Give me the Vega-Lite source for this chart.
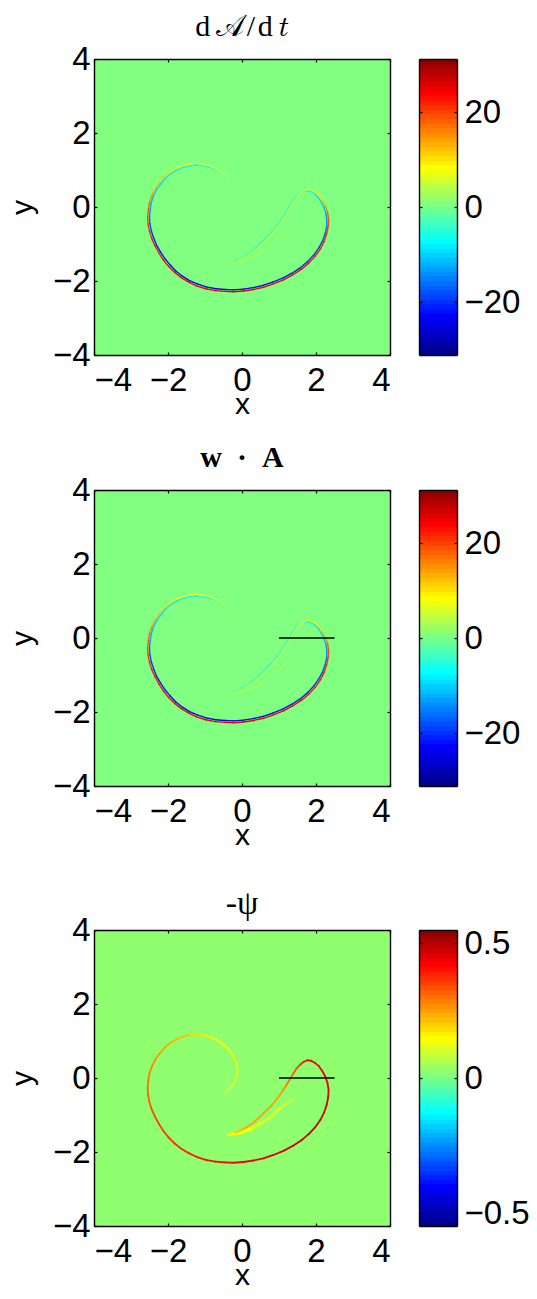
{
"$schema":"https://vega.github.io/schema/vega-lite/v6.json",
"padding":{"left":7,"top":12,"right":0,"bottom":0},
"background":"white",
"resolve":{"scale":{"color":"independent"}},
"config":{"view":{"stroke":null},"font":"Liberation Sans",
"axis":{"labelFont":"Liberation Sans","labelFontSize":33,"labelColor":"#000","titleFont":"Liberation Sans","titleFontSize":30,"titleFontWeight":"normal","titleColor":"#000","domainColor":"#000","domainWidth":1.4,"tickColor":"#000","tickWidth":1.2,"tickSize":-3,"grid":false}},
"datasets":{
"bg":[{"x0":-4,"x1":4,"y0":-4,"y1":4,"v":0,"p":0.018}],
"seg":[{"x0":1,"x1":2.5,"y0":0}],
"out":[
{"x":-0.46,"y":-0.41,"a":0,"c":0.07},{"x":-0.36,"y":-0.32,"a":0,"c":0.09},{"x":-0.27,"y":-0.22,"a":0,"c":0.1},{"x":-0.19,"y":-0.09,"a":0,"c":0.1},{"x":-0.14,"y":0.05,"a":0,"c":0.11},{"x":-0.12,"y":0.22,"a":0,"c":0.11},{"x":-0.14,"y":0.38,"a":0,"c":0.12},{"x":-0.21,"y":0.55,"a":0,"c":0.12},{"x":-0.3,"y":0.69,"a":1,"c":0.13},{"x":-0.41,"y":0.83,"a":3,"c":0.13},{"x":-0.55,"y":0.94,"a":4,"c":0.14},{"x":-0.71,"y":1.05,"a":5,"c":0.15},{"x":-0.88,"y":1.12,"a":6,"c":0.16},{"x":-1.06,"y":1.16,"a":7,"c":0.17},{"x":-1.23,"y":1.18,"a":8,"c":0.18},{"x":-1.41,"y":1.16,"a":9,"c":0.2},{"x":-1.59,"y":1.12,"a":9,"c":0.21},{"x":-1.77,"y":1.05,"a":9,"c":0.22},{"x":-1.95,"y":0.94,"a":10,"c":0.23},{"x":-2.1,"y":0.81,"a":11,"c":0.24},{"x":-2.23,"y":0.66,"a":12,"c":0.25},{"x":-2.34,"y":0.5,"a":13,"c":0.26},{"x":-2.43,"y":0.32,"a":15,"c":0.27},{"x":-2.5,"y":0.13,"a":17,"c":0.28},{"x":-2.53,"y":-0.06,"a":18,"c":0.29},{"x":-2.55,"y":-0.26,"a":19,"c":0.3},{"x":-2.54,"y":-0.46,"a":20,"c":0.31},{"x":-2.5,"y":-0.66,"a":21,"c":0.32},{"x":-2.44,"y":-0.85,"a":22,"c":0.33},{"x":-2.35,"y":-1.05,"a":22,"c":0.34},{"x":-2.24,"y":-1.25,"a":23,"c":0.34},{"x":-2.12,"y":-1.44,"a":23,"c":0.35},{"x":-1.98,"y":-1.61,"a":23,"c":0.36},{"x":-1.82,"y":-1.77,"a":24,"c":0.36},{"x":-1.64,"y":-1.91,"a":24,"c":0.37},{"x":-1.44,"y":-2.03,"a":24,"c":0.38},{"x":-1.23,"y":-2.13,"a":24,"c":0.39},{"x":-0.98,"y":-2.21,"a":24,"c":0.4},{"x":-0.72,"y":-2.26,"a":24,"c":0.41},{"x":-0.47,"y":-2.28,"a":24,"c":0.41},{"x":-0.23,"y":-2.29,"a":24,"c":0.42},{"x":0.04,"y":-2.27,"a":24,"c":0.42},{"x":0.31,"y":-2.23,"a":24,"c":0.43},{"x":0.58,"y":-2.17,"a":24,"c":0.44},{"x":0.85,"y":-2.08,"a":24,"c":0.45},{"x":1.12,"y":-1.97,"a":24,"c":0.46},{"x":1.38,"y":-1.83,"a":23,"c":0.47},{"x":1.61,"y":-1.68,"a":23,"c":0.48},{"x":1.81,"y":-1.51,"a":22,"c":0.48},{"x":1.98,"y":-1.33,"a":22,"c":0.47},{"x":2.12,"y":-1.13,"a":22,"c":0.46},{"x":2.22,"y":-0.93,"a":21,"c":0.45},{"x":2.29,"y":-0.72,"a":20,"c":0.45},{"x":2.33,"y":-0.52,"a":19,"c":0.44},{"x":2.34,"y":-0.32,"a":18,"c":0.44},{"x":2.31,"y":-0.13,"a":15,"c":0.43},{"x":2.25,"y":0.04,"a":12,"c":0.43},{"x":2.17,"y":0.19,"a":10,"c":0.42},{"x":2.08,"y":0.32,"a":9,"c":0.42},{"x":1.97,"y":0.41,"a":8,"c":0.42},{"x":1.86,"y":0.47,"a":7,"c":0.42},{"x":1.77,"y":0.48,"a":6,"c":0.41},{"x":1.67,"y":0.44,"a":5,"c":0.38},{"x":1.57,"y":0.36,"a":4,"c":0.35},{"x":1.47,"y":0.25,"a":4,"c":0.32},{"x":1.38,"y":0.11,"a":4,"c":0.3},{"x":1.29,"y":-0.04,"a":4,"c":0.28},{"x":1.19,"y":-0.21,"a":4,"c":0.26},{"x":1.07,"y":-0.39,"a":4,"c":0.24},{"x":0.94,"y":-0.58,"a":4,"c":0.24},{"x":0.79,"y":-0.75,"a":3,"c":0.24},{"x":0.63,"y":-0.91,"a":3,"c":0.24},{"x":0.47,"y":-1.06,"a":3,"c":0.24},{"x":0.31,"y":-1.2,"a":2,"c":0.24},{"x":0.14,"y":-1.32,"a":2,"c":0.22},{"x":-0.03,"y":-1.41,"a":2,"c":0.2},{"x":-0.19,"y":-1.49,"a":1,"c":0.15},{"x":-0.37,"y":-1.53,"a":0.5,"c":0.1}
],
"inn":[
{"x":-0.4,"y":0.79,"a":-1},{"x":-0.53,"y":0.9,"a":-2},{"x":-0.69,"y":1.01,"a":-4},{"x":-0.87,"y":1.08,"a":-6},{"x":-1.06,"y":1.12,"a":-7},{"x":-1.23,"y":1.14,"a":-8},{"x":-1.4,"y":1.12,"a":-8},{"x":-1.57,"y":1.08,"a":-8},{"x":-1.75,"y":1.01,"a":-9},{"x":-1.92,"y":0.91,"a":-9},{"x":-2.07,"y":0.78,"a":-10},{"x":-2.19,"y":0.63,"a":-10},{"x":-2.3,"y":0.48,"a":-11},{"x":-2.39,"y":0.31,"a":-12},{"x":-2.45,"y":0.12,"a":-13},{"x":-2.48,"y":-0.06,"a":-15},{"x":-2.5,"y":-0.26,"a":-17},{"x":-2.49,"y":-0.45,"a":-19},{"x":-2.45,"y":-0.65,"a":-20},{"x":-2.39,"y":-0.83,"a":-21},{"x":-2.31,"y":-1.03,"a":-22},{"x":-2.2,"y":-1.22,"a":-22},{"x":-2.08,"y":-1.4,"a":-22},{"x":-1.94,"y":-1.57,"a":-23},{"x":-1.79,"y":-1.73,"a":-23},{"x":-1.61,"y":-1.87,"a":-23},{"x":-1.42,"y":-1.99,"a":-23},{"x":-1.21,"y":-2.08,"a":-23},{"x":-0.97,"y":-2.16,"a":-23},{"x":-0.71,"y":-2.21,"a":-23},{"x":-0.47,"y":-2.23,"a":-23},{"x":-0.23,"y":-2.24,"a":-23},{"x":0.04,"y":-2.22,"a":-23},{"x":0.3,"y":-2.18,"a":-23},{"x":0.57,"y":-2.12,"a":-23},{"x":0.83,"y":-2.03,"a":-22},{"x":1.1,"y":-1.92,"a":-22},{"x":1.35,"y":-1.79,"a":-22},{"x":1.58,"y":-1.64,"a":-21},{"x":1.78,"y":-1.47,"a":-21},{"x":1.94,"y":-1.3,"a":-20},{"x":2.08,"y":-1.1,"a":-19},{"x":2.18,"y":-0.91,"a":-18},{"x":2.25,"y":-0.71,"a":-17},{"x":2.29,"y":-0.52,"a":-15},{"x":2.29,"y":-0.32,"a":-14},{"x":2.26,"y":-0.14,"a":-12},{"x":2.2,"y":0.02,"a":-11},{"x":2.13,"y":0.16,"a":-10},{"x":2.04,"y":0.28,"a":-9},{"x":1.94,"y":0.37,"a":-8},{"x":1.85,"y":0.42,"a":-7},{"x":1.76,"y":0.44,"a":-6},{"x":1.65,"y":0.42,"a":-5},{"x":1.54,"y":0.35,"a":-5},{"x":1.44,"y":0.26,"a":-5},{"x":1.35,"y":0.13,"a":-5},{"x":1.26,"y":-0.02,"a":-5},{"x":1.16,"y":-0.19,"a":-5},{"x":1.04,"y":-0.37,"a":-5},{"x":0.91,"y":-0.55,"a":-5},{"x":0.76,"y":-0.72,"a":-5},{"x":0.6,"y":-0.88,"a":-5},{"x":0.44,"y":-1.03,"a":-4},{"x":0.28,"y":-1.17,"a":-4},{"x":0.11,"y":-1.29,"a":-3},{"x":-0.06,"y":-1.38,"a":-3},{"x":-0.22,"y":-1.45,"a":-1}
],
"sec":[{"x":1.39,"y":-0.58,"a":1,"c":0.06},{"x":1.21,"y":-0.68,"a":2,"c":0.08},{"x":0.98,"y":-0.86,"a":2,"c":0.09},{"x":0.76,"y":-1.05,"a":2,"c":0.1},{"x":0.49,"y":-1.24,"a":3,"c":0.11},{"x":0.22,"y":-1.39,"a":3,"c":0.13},{"x":-0.05,"y":-1.48,"a":3,"c":0.14},{"x":-0.37,"y":-1.53,"a":2,"c":0.1}],
"barA":[{"l":-31},{"l":-30.03},{"l":-29.06},{"l":-28.09},{"l":-27.13},{"l":-26.16},{"l":-25.19},{"l":-24.22},{"l":-23.25},{"l":-22.28},{"l":-21.31},{"l":-20.34},{"l":-19.38},{"l":-18.41},{"l":-17.44},{"l":-16.47},{"l":-15.5},{"l":-14.53},{"l":-13.56},{"l":-12.59},{"l":-11.63},{"l":-10.66},{"l":-9.69},{"l":-8.72},{"l":-7.75},{"l":-6.78},{"l":-5.81},{"l":-4.84},{"l":-3.88},{"l":-2.91},{"l":-1.94},{"l":-0.97},{"l":0},{"l":0.97},{"l":1.94},{"l":2.91},{"l":3.88},{"l":4.84},{"l":5.81},{"l":6.78},{"l":7.75},{"l":8.72},{"l":9.69},{"l":10.66},{"l":11.63},{"l":12.59},{"l":13.56},{"l":14.53},{"l":15.5},{"l":16.47},{"l":17.44},{"l":18.41},{"l":19.38},{"l":20.34},{"l":21.31},{"l":22.28},{"l":23.25},{"l":24.22},{"l":25.19},{"l":26.16},{"l":27.13},{"l":28.09},{"l":29.06},{"l":30.03},{"l":31}],
"barP":[{"l":-0.55},{"l":-0.533},{"l":-0.516},{"l":-0.498},{"l":-0.481},{"l":-0.464},{"l":-0.447},{"l":-0.43},{"l":-0.413},{"l":-0.395},{"l":-0.378},{"l":-0.361},{"l":-0.344},{"l":-0.327},{"l":-0.309},{"l":-0.292},{"l":-0.275},{"l":-0.258},{"l":-0.241},{"l":-0.223},{"l":-0.206},{"l":-0.189},{"l":-0.172},{"l":-0.155},{"l":-0.138},{"l":-0.12},{"l":-0.103},{"l":-0.086},{"l":-0.069},{"l":-0.052},{"l":-0.034},{"l":-0.017},{"l":0},{"l":0.017},{"l":0.034},{"l":0.052},{"l":0.069},{"l":0.086},{"l":0.103},{"l":0.12},{"l":0.138},{"l":0.155},{"l":0.172},{"l":0.189},{"l":0.206},{"l":0.223},{"l":0.241},{"l":0.258},{"l":0.275},{"l":0.292},{"l":0.309},{"l":0.327},{"l":0.344},{"l":0.361},{"l":0.378},{"l":0.395},{"l":0.413},{"l":0.43},{"l":0.447},{"l":0.464},{"l":0.481},{"l":0.498},{"l":0.516},{"l":0.533},{"l":0.55}]
},
"vconcat":[
{"hconcat":[
{"width":296,"height":296,"title":{"text":"d\u2009𝒜\u200a/\u200ad\u2009𝑡","font":"Liberation Serif","fontSize":30,"fontWeight":"normal","color":"#000","offset":1},
"resolve":{"axis":{"x":"independent","y":"independent"}},
"layer":[
{"data":{"name":"bg"},"mark":"rect","encoding":{"x":{"field":"x0","type":"quantitative","scale":{"domain":[-4,4],"nice":false,"zero":false},"axis":{"zindex":1,"values":[-4,-2,0,2,4],"title":"x","labelPadding":12,"titlePadding":-8}},"x2":{"field":"x1"},"y":{"field":"y0","type":"quantitative","scale":{"domain":[-4,4],"nice":false,"zero":false},"axis":{"zindex":1,"values":[-4,-2,0,2,4],"title":"y","labelPadding":7,"titlePadding":15}},"y2":{"field":"y1"},"color":{"field":"v","type":"quantitative","legend":null,"scale":{"interpolate":"rgb","domain":[-31,-23.25,-7.75,7.75,23.25,31],"range":["#00008f","#0000ff","#00ffff","#ffff00","#ff0000","#800000"]}}}},
{"data":{"name":"bg"},"mark":{"type":"rect","opacity":0},"encoding":{"x":{"field":"x0","type":"quantitative","axis":{"zindex":1,"orient":"top","values":[-4,-2,0,2,4],"labels":false,"title":null}},"x2":{"field":"x1"},"y":{"field":"y0","type":"quantitative","axis":{"zindex":1,"orient":"right","values":[-4,-2,0,2,4],"labels":false,"title":null}},"y2":{"field":"y1"}}},
{"data":{"name":"sec"},"transform":[{"window":[{"op":"lead","field":"x","as":"x2"},{"op":"lead","field":"y","as":"y2"}]},{"filter":"datum.x2 != null"}],"mark":{"type":"rule","strokeWidth":1.2,"strokeCap":"round"},"encoding":{"x":{"field":"x","type":"quantitative","axis":null},"y":{"field":"y","type":"quantitative","axis":null},"x2":{"field":"x2"},"y2":{"field":"y2"},"color":{"field":"a","type":"quantitative","legend":null}}},
{"data":{"name":"inn"},"transform":[{"window":[{"op":"lead","field":"x","as":"x2"},{"op":"lead","field":"y","as":"y2"}]},{"filter":"datum.x2 != null"}],"mark":{"type":"rule","strokeWidth":1.4,"strokeCap":"round"},"encoding":{"x":{"field":"x","type":"quantitative","axis":null},"y":{"field":"y","type":"quantitative","axis":null},"x2":{"field":"x2"},"y2":{"field":"y2"},"color":{"field":"a","type":"quantitative","legend":null}}},
{"data":{"name":"out"},"transform":[{"window":[{"op":"lead","field":"x","as":"x2"},{"op":"lead","field":"y","as":"y2"}]},{"filter":"datum.x2 != null"}],"mark":{"type":"rule","strokeWidth":1.4,"strokeCap":"round"},"encoding":{"x":{"field":"x","type":"quantitative","axis":null},"y":{"field":"y","type":"quantitative","axis":null},"x2":{"field":"x2"},"y2":{"field":"y2"},"color":{"field":"a","type":"quantitative","legend":null}}}
]},
{"width":38,"height":296,"data":{"name":"barA"},"transform":[{"window":[{"op":"lead","field":"l","as":"h"}]},{"filter":"datum.h != null"}],
"resolve":{"axis":{"x":"independent","y":"independent"}},
"layer":[
{"mark":"rect","encoding":{"x":{"datum":0,"type":"quantitative","scale":{"domain":[0,1]},"axis":{"zindex":1,"values":[],"labels":false,"title":null,"ticks":false}},"x2":{"datum":1},"y":{"field":"l","type":"quantitative","scale":{"domain":[-31,31],"nice":false,"zero":false,"round":true},"axis":{"zindex":1,"orient":"right","values":[-20,0,20],"title":null,"labelPadding":10,"format":"d"}},"y2":{"field":"h"},"color":{"field":"l","type":"quantitative","legend":null,"scale":{"interpolate":"rgb","domain":[-31,-23.25,-7.75,7.75,23.25,31],"range":["#00008f","#0000ff","#00ffff","#ffff00","#ff0000","#800000"]}}}},
{"mark":{"type":"rect","opacity":0},"encoding":{"x":{"datum":0,"type":"quantitative","axis":{"zindex":1,"orient":"top","values":[],"labels":false,"title":null,"ticks":false}},"x2":{"datum":1},"y":{"field":"l","type":"quantitative","axis":{"zindex":1,"orient":"left","values":[-20,0,20],"title":null,"labels":false}},"y2":{"field":"h"}}}
]}
],"spacing":27},
{"hconcat":[
{"width":296,"height":296,"title":{"text":"w\u2002·\u2002A","font":"Liberation Serif","fontSize":30,"fontWeight":"bold","color":"#000","offset":1},
"resolve":{"axis":{"x":"independent","y":"independent"}},
"layer":[
{"data":{"name":"bg"},"mark":"rect","encoding":{"x":{"field":"x0","type":"quantitative","scale":{"domain":[-4,4],"nice":false,"zero":false},"axis":{"zindex":1,"values":[-4,-2,0,2,4],"title":"x","labelPadding":12,"titlePadding":-8}},"x2":{"field":"x1"},"y":{"field":"y0","type":"quantitative","scale":{"domain":[-4,4],"nice":false,"zero":false},"axis":{"zindex":1,"values":[-4,-2,0,2,4],"title":"y","labelPadding":7,"titlePadding":15}},"y2":{"field":"y1"},"color":{"field":"v","type":"quantitative","legend":null,"scale":{"interpolate":"rgb","domain":[-31,-23.25,-7.75,7.75,23.25,31],"range":["#00008f","#0000ff","#00ffff","#ffff00","#ff0000","#800000"]}}}},
{"data":{"name":"bg"},"mark":{"type":"rect","opacity":0},"encoding":{"x":{"field":"x0","type":"quantitative","axis":{"zindex":1,"orient":"top","values":[-4,-2,0,2,4],"labels":false,"title":null}},"x2":{"field":"x1"},"y":{"field":"y0","type":"quantitative","axis":{"zindex":1,"orient":"right","values":[-4,-2,0,2,4],"labels":false,"title":null}},"y2":{"field":"y1"}}},
{"data":{"name":"sec"},"transform":[{"window":[{"op":"lead","field":"x","as":"x2"},{"op":"lead","field":"y","as":"y2"}]},{"filter":"datum.x2 != null"}],"mark":{"type":"rule","strokeWidth":1.2,"strokeCap":"round"},"encoding":{"x":{"field":"x","type":"quantitative","axis":null},"y":{"field":"y","type":"quantitative","axis":null},"x2":{"field":"x2"},"y2":{"field":"y2"},"color":{"field":"a","type":"quantitative","legend":null}}},
{"data":{"name":"inn"},"transform":[{"window":[{"op":"lead","field":"x","as":"x2"},{"op":"lead","field":"y","as":"y2"}]},{"filter":"datum.x2 != null"}],"mark":{"type":"rule","strokeWidth":1.4,"strokeCap":"round"},"encoding":{"x":{"field":"x","type":"quantitative","axis":null},"y":{"field":"y","type":"quantitative","axis":null},"x2":{"field":"x2"},"y2":{"field":"y2"},"color":{"field":"a","type":"quantitative","legend":null}}},
{"data":{"name":"out"},"transform":[{"window":[{"op":"lead","field":"x","as":"x2"},{"op":"lead","field":"y","as":"y2"}]},{"filter":"datum.x2 != null"}],"mark":{"type":"rule","strokeWidth":1.4,"strokeCap":"round"},"encoding":{"x":{"field":"x","type":"quantitative","axis":null},"y":{"field":"y","type":"quantitative","axis":null},"x2":{"field":"x2"},"y2":{"field":"y2"},"color":{"field":"a","type":"quantitative","legend":null}}},
{"data":{"name":"seg"},"mark":{"type":"rule","color":"#000","strokeWidth":1.6},"encoding":{"x":{"field":"x0","type":"quantitative","axis":null},"x2":{"field":"x1"},"y":{"field":"y0","type":"quantitative","axis":null}}}
]},
{"width":38,"height":296,"data":{"name":"barA"},"transform":[{"window":[{"op":"lead","field":"l","as":"h"}]},{"filter":"datum.h != null"}],
"resolve":{"axis":{"x":"independent","y":"independent"}},
"layer":[
{"mark":"rect","encoding":{"x":{"datum":0,"type":"quantitative","scale":{"domain":[0,1]},"axis":{"zindex":1,"values":[],"labels":false,"title":null,"ticks":false}},"x2":{"datum":1},"y":{"field":"l","type":"quantitative","scale":{"domain":[-31,31],"nice":false,"zero":false,"round":true},"axis":{"zindex":1,"orient":"right","values":[-20,0,20],"title":null,"labelPadding":10,"format":"d"}},"y2":{"field":"h"},"color":{"field":"l","type":"quantitative","legend":null,"scale":{"interpolate":"rgb","domain":[-31,-23.25,-7.75,7.75,23.25,31],"range":["#00008f","#0000ff","#00ffff","#ffff00","#ff0000","#800000"]}}}},
{"mark":{"type":"rect","opacity":0},"encoding":{"x":{"datum":0,"type":"quantitative","axis":{"zindex":1,"orient":"top","values":[],"labels":false,"title":null,"ticks":false}},"x2":{"datum":1},"y":{"field":"l","type":"quantitative","axis":{"zindex":1,"orient":"left","values":[-20,0,20],"title":null,"labels":false}},"y2":{"field":"h"}}}
]}
],"spacing":27},
{"hconcat":[
{"width":296,"height":296,"title":{"text":"-ψ","font":"Liberation Serif","fontSize":34,"fontWeight":"normal","color":"#000","offset":-7},
"resolve":{"axis":{"x":"independent","y":"independent"}},
"layer":[
{"data":{"name":"bg"},"mark":"rect","encoding":{"x":{"field":"x0","type":"quantitative","scale":{"domain":[-4,4],"nice":false,"zero":false},"axis":{"zindex":1,"values":[-4,-2,0,2,4],"title":"x","labelPadding":12,"titlePadding":-8}},"x2":{"field":"x1"},"y":{"field":"y0","type":"quantitative","scale":{"domain":[-4,4],"nice":false,"zero":false},"axis":{"zindex":1,"values":[-4,-2,0,2,4],"title":"y","labelPadding":7,"titlePadding":15}},"y2":{"field":"y1"},"color":{"field":"p","type":"quantitative","legend":null,"scale":{"interpolate":"rgb","domain":[-0.55,-0.4125,-0.1375,0.1375,0.4125,0.55],"range":["#00008f","#0000ff","#00ffff","#ffff00","#ff0000","#800000"]}}}},
{"data":{"name":"bg"},"mark":{"type":"rect","opacity":0},"encoding":{"x":{"field":"x0","type":"quantitative","axis":{"zindex":1,"orient":"top","values":[-4,-2,0,2,4],"labels":false,"title":null}},"x2":{"field":"x1"},"y":{"field":"y0","type":"quantitative","axis":{"zindex":1,"orient":"right","values":[-4,-2,0,2,4],"labels":false,"title":null}},"y2":{"field":"y1"}}},
{"data":{"name":"sec"},"transform":[{"window":[{"op":"lead","field":"x","as":"x2"},{"op":"lead","field":"y","as":"y2"}]},{"filter":"datum.x2 != null"}],"mark":{"type":"rule","strokeWidth":3,"strokeCap":"round"},"encoding":{"x":{"field":"x","type":"quantitative","axis":null},"y":{"field":"y","type":"quantitative","axis":null},"x2":{"field":"x2"},"y2":{"field":"y2"},"color":{"field":"c","type":"quantitative","legend":null}}},
{"data":{"name":"out"},"transform":[{"window":[{"op":"lead","field":"x","as":"x2"},{"op":"lead","field":"y","as":"y2"}]},{"filter":"datum.x2 != null"}],"mark":{"type":"rule","strokeWidth":1.8,"strokeCap":"round"},"encoding":{"x":{"field":"x","type":"quantitative","axis":null},"y":{"field":"y","type":"quantitative","axis":null},"x2":{"field":"x2"},"y2":{"field":"y2"},"color":{"field":"c","type":"quantitative","legend":null}}},
{"data":{"name":"seg"},"mark":{"type":"rule","color":"#000","strokeWidth":1.6},"encoding":{"x":{"field":"x0","type":"quantitative","axis":null},"x2":{"field":"x1"},"y":{"field":"y0","type":"quantitative","axis":null}}}
]},
{"width":38,"height":296,"title":{"text":" ","fontSize":30,"offset":23},"data":{"name":"barP"},"transform":[{"window":[{"op":"lead","field":"l","as":"h"}]},{"filter":"datum.h != null"}],
"resolve":{"axis":{"x":"independent","y":"independent"}},
"layer":[
{"mark":"rect","encoding":{"x":{"datum":0,"type":"quantitative","scale":{"domain":[0,1]},"axis":{"zindex":1,"values":[],"labels":false,"title":null,"ticks":false}},"x2":{"datum":1},"y":{"field":"l","type":"quantitative","scale":{"domain":[-0.55,0.55],"nice":false,"zero":false,"round":true},"axis":{"zindex":1,"orient":"right","values":[-0.5,0,0.5],"title":null,"labelPadding":10,"format":".1~f"}},"y2":{"field":"h"},"color":{"field":"l","type":"quantitative","legend":null,"scale":{"interpolate":"rgb","domain":[-0.55,-0.4125,-0.1375,0.1375,0.4125,0.55],"range":["#00008f","#0000ff","#00ffff","#ffff00","#ff0000","#800000"]}}}},
{"mark":{"type":"rect","opacity":0},"encoding":{"x":{"datum":0,"type":"quantitative","axis":{"zindex":1,"orient":"top","values":[],"labels":false,"title":null,"ticks":false}},"x2":{"datum":1},"y":{"field":"l","type":"quantitative","axis":{"zindex":1,"orient":"left","values":[-0.5,0,0.5],"title":null,"labels":false}},"y2":{"field":"h"}}}
]}
],"spacing":27}
],"spacing":24
}
